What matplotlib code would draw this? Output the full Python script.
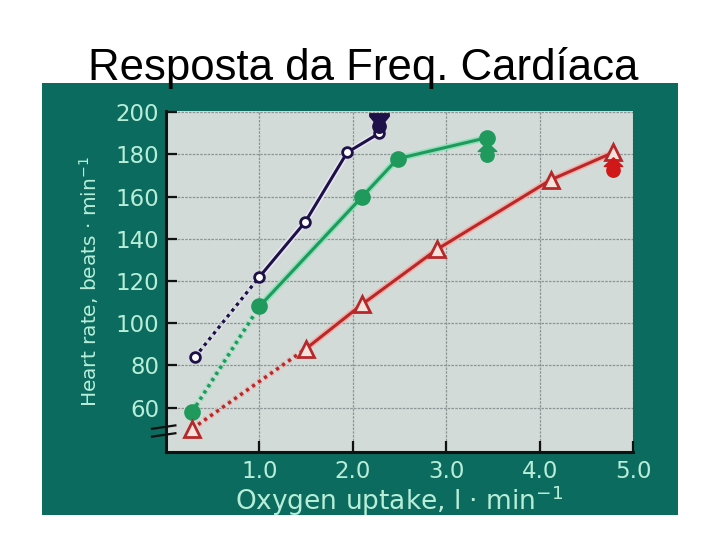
import matplotlib
matplotlib.use("Agg")
import matplotlib.pyplot as plt
import matplotlib.patheffects as pe
from matplotlib.patches import Rectangle
from matplotlib.path import Path
import numpy as np

# data
navy_x = [0.31, 1.0, 1.49, 1.94, 2.28]
navy_y = [84, 122, 148, 181, 190]
navy_max_x = [2.28]
navy_max_y = [195]

green_x = [0.28, 1.0, 2.1, 2.48, 3.44]
green_y = [58, 108, 160, 178, 188]
green_max_x = [3.44]
green_max_y = [181]

red_x = [0.28, 1.5, 2.1, 2.9, 4.12, 4.79]
red_y = [50, 88, 109, 135, 168, 181]
red_max_x = [4.79]
red_max_y = [174]

x_ticks = [1.0, 2.0, 3.0, 4.0, 5.0]
x_ticklabels = ['1.0', '2.0', '3.0', '4.0', '5.0']
y_ticks = [60, 80, 100, 120, 140, 160, 180, 200]

TEAL = '#0b6b5f'
MINT = '#b8eed8'
NAVY = '#1e1048'
GREEN = '#1f9a5c'
RED = '#b8282a'


def arrow_marker(up=True):
    # circle with a triangle on top (up) or a flat bar on top (navy marker)
    circ = Path.unit_circle()
    circ = Path(circ.vertices * 0.65 + np.array([0, -0.3]), circ.codes)
    if up:
        tri = Path([(-0.9, 0.1), (0.9, 0.1), (0, 0.95), (-0.9, 0.1)],
                   [Path.MOVETO, Path.LINETO, Path.LINETO, Path.CLOSEPOLY])
    else:
        tri = Path([(-0.95, 0.7), (-0.95, 0.95), (0.95, 0.95), (0.95, 0.7),
                    (0.45, 0.1), (-0.45, 0.1), (-0.95, 0.7)],
                   [Path.MOVETO] + [Path.LINETO] * 5 + [Path.CLOSEPOLY])
        tri = Path(tri.vertices[::-1], tri.codes)
    return Path.make_compound_path(circ, tri)


fig = plt.figure(figsize=(7.2, 5.4), dpi=100)
fig.patch.set_facecolor('white')
fig.patches.append(Rectangle((0.058, 0.046), 0.884, 0.8, transform=fig.transFigure,
                             facecolor=TEAL, edgecolor='none', zorder=-5))

fig.text(0.505, 0.852, 'Resposta da Freq. Cardíaca', ha='center', va='baseline',
         fontsize=31.5, family='Liberation Sans', color='black')

ax = fig.add_axes([0.2306, 0.163, 0.6486, 0.631])
ax.set_zorder(2)
ax.set_facecolor('#d2dbd8')
ax.set_xlim(0, 5)
ax.set_ylim(39, 200.5)

ax.grid(True, color='#8c9594', linewidth=0.9, linestyle=(0, (2, 1)))
ax.set_axisbelow(True)

for s in ['top', 'right']:
    ax.spines[s].set_visible(False)
for s in ['left', 'bottom']:
    ax.spines[s].set_color('#111111')
    ax.spines[s].set_linewidth(2.2)

ax.set_xticks(x_ticks)
ax.set_xticklabels(x_ticklabels)
ax.set_yticks(y_ticks)
ax.tick_params(direction='in', length=8, width=1.6, color='#111111',
               labelcolor=MINT, labelsize=16.5)
ax.tick_params(axis='x', pad=6)
ax.tick_params(axis='y', pad=5)

ax.set_ylabel('Heart rate, beats · min$^{-1}$', color=MINT, fontsize=14.5, labelpad=10)
ax.set_xlabel('Oxygen uptake, l · min$^{-1}$', color=MINT, fontsize=19, labelpad=0)

# axis break marks
for yb in [0.073, 0.05]:
    ax.plot([-0.03, 0.02], [yb - 0.005, yb + 0.005], transform=ax.transAxes,
            color='#111111', lw=1.6, clip_on=False, zorder=5)


def series(xs, ys, color, halo, marker, mfc, ms):
    effects = [pe.Stroke(linewidth=4.5, foreground=halo), pe.Normal()]
    ax.plot(xs[:2], ys[:2], color=color, lw=2.4, linestyle=(0, (1, 1.2)),
            path_effects=effects, zorder=3)
    ax.plot(xs[1:], ys[1:], color=color, lw=2.2, path_effects=effects, zorder=3)
    ax.plot(xs, ys, linestyle='none', marker=marker, ms=ms, mfc=mfc,
            mec=color, mew=2, zorder=4)


series(navy_x, navy_y, NAVY, '#e8e8f0', 'o', 'white', 7)
series(green_x, green_y, GREEN, '#8fe0b8', 'o', GREEN, 10)
series(red_x, red_y, RED, '#f2b0a8', '^', '#f6e4dc', 11)

ax.plot(navy_max_x, navy_max_y, linestyle='none', marker=arrow_marker(False),
        ms=14, color=NAVY, zorder=4)
ax.plot(green_max_x, green_max_y, linestyle='none', marker=arrow_marker(True),
        ms=14, color=GREEN, zorder=4)
ax.plot(red_max_x, red_max_y, linestyle='none', marker=arrow_marker(True),
        ms=14, color='#d01818', zorder=4)

fig.savefig('out.png', dpi=100)
